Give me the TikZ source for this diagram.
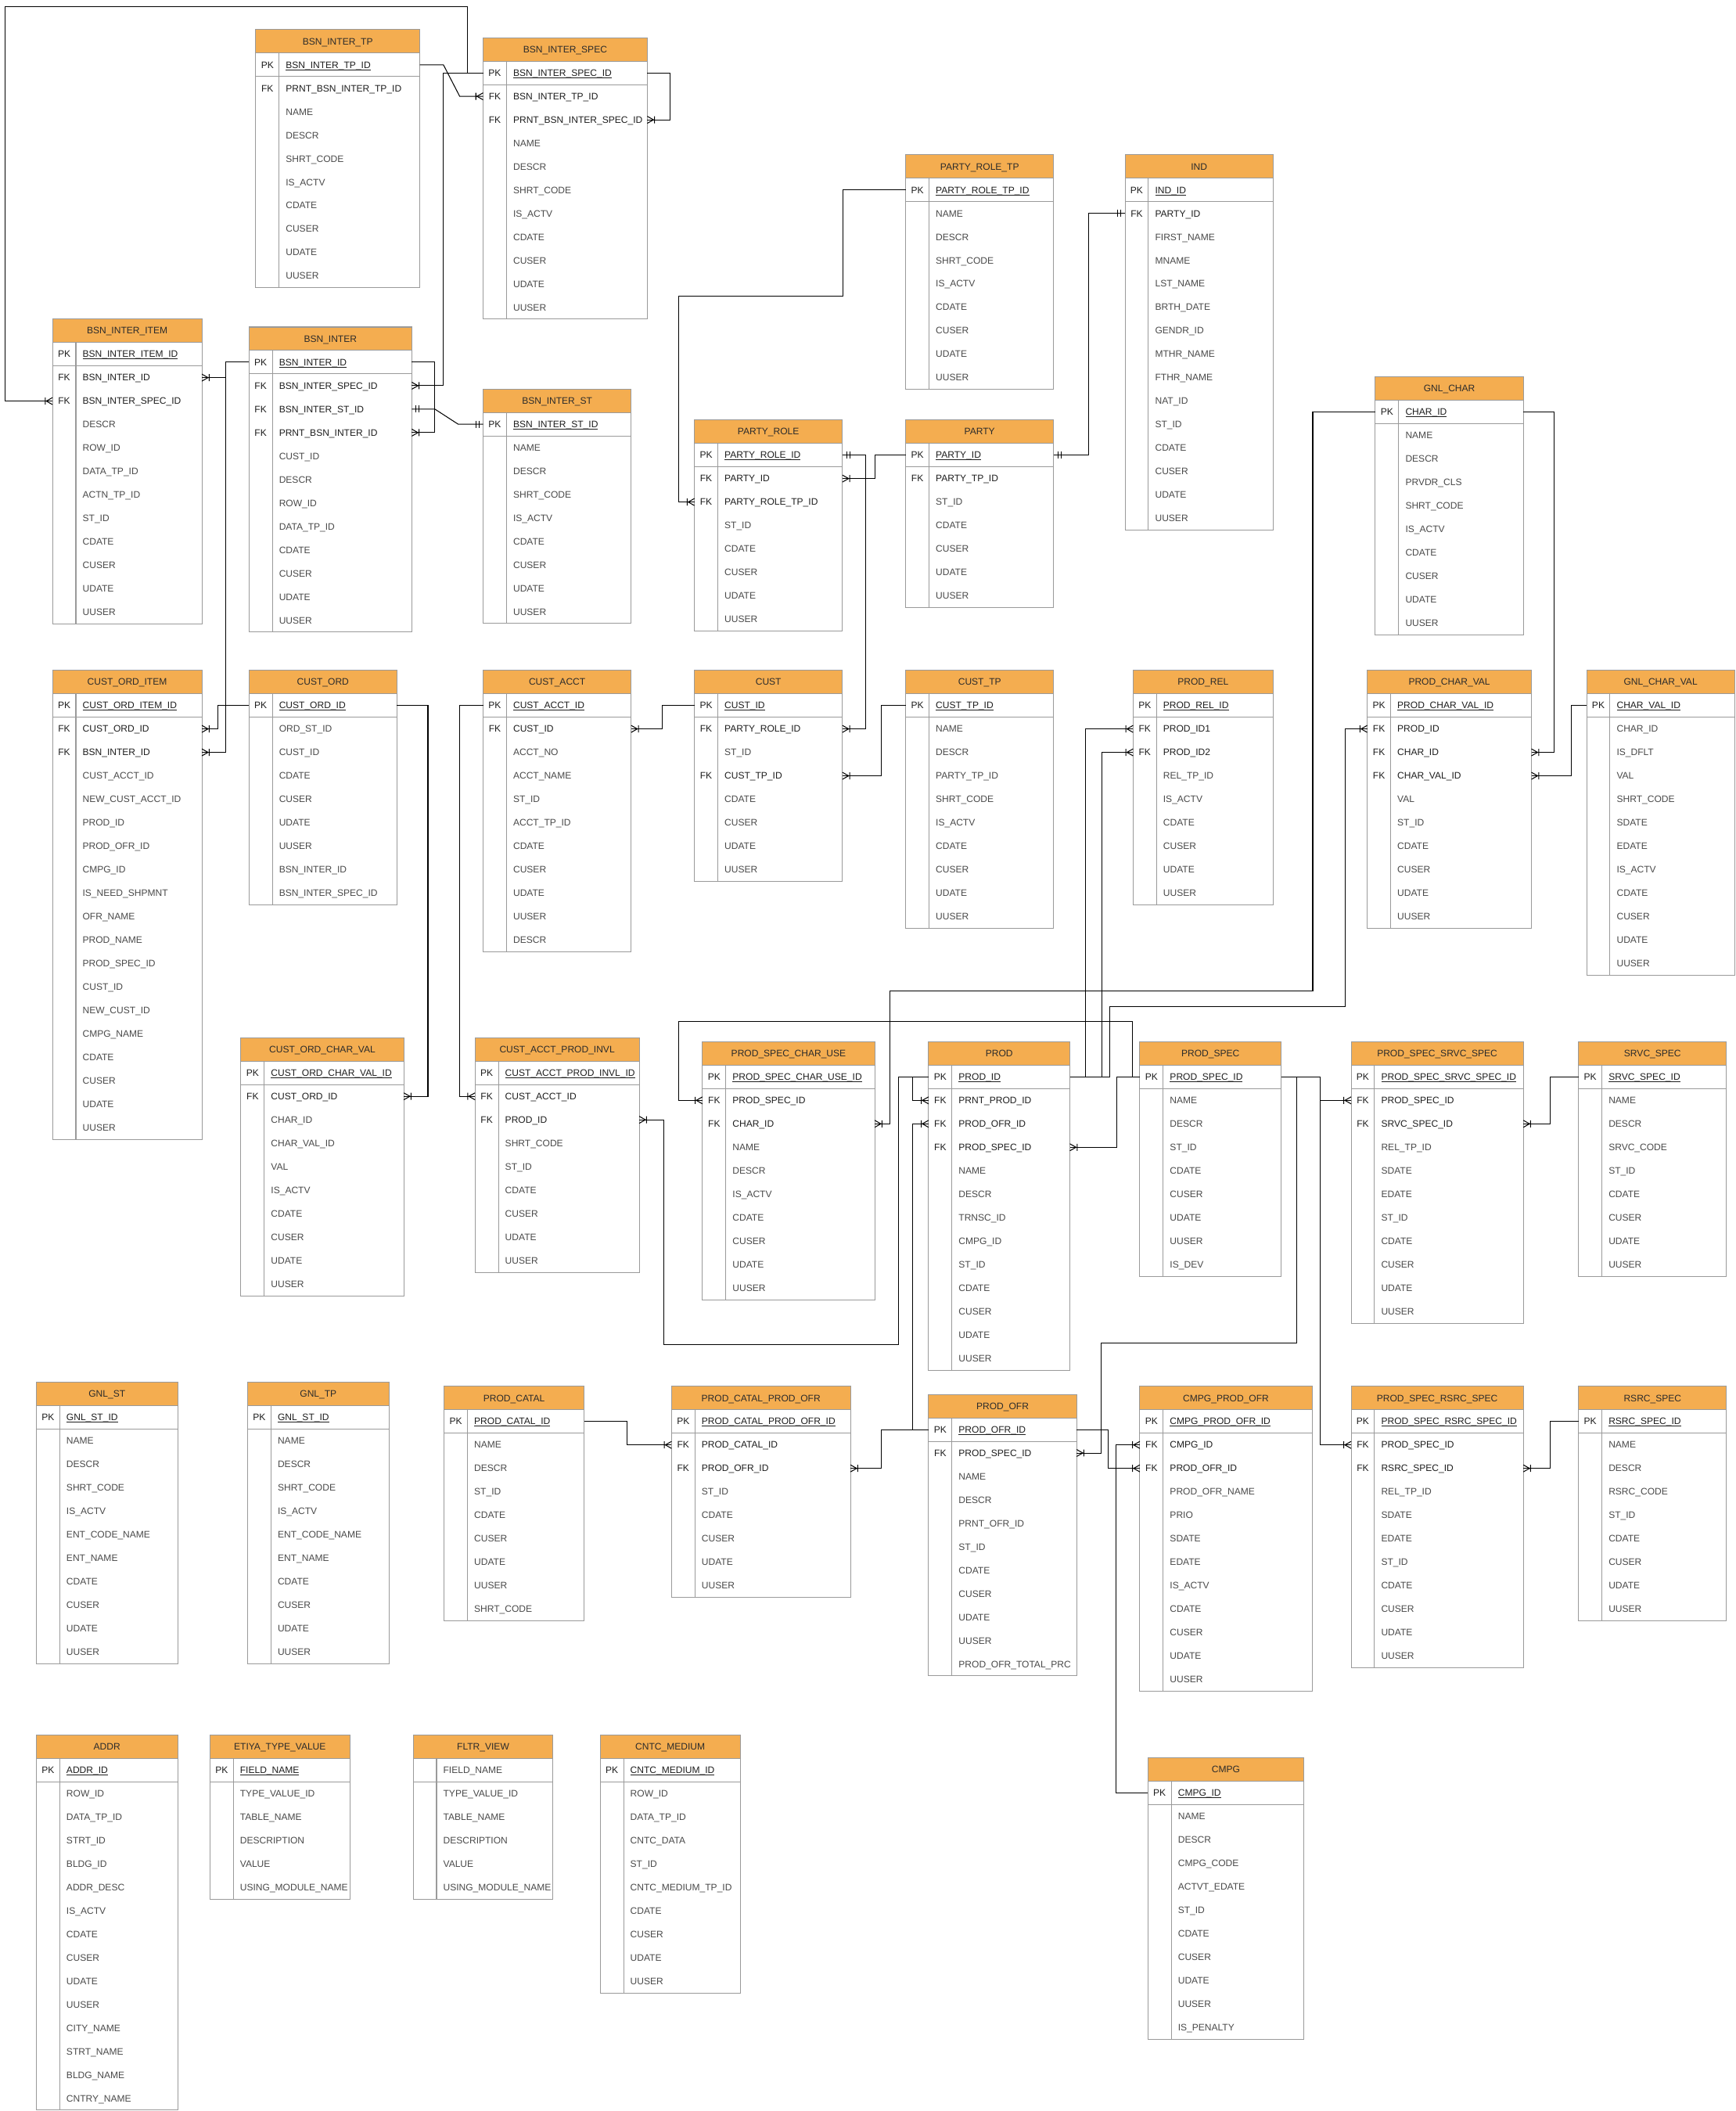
\documentclass[tikz,border=0pt]{standalone}
\usepackage{fontspec}
\setmainfont{Liberation Sans}
\definecolor{hdr}{HTML}{F4AD50}
\definecolor{bdc}{HTML}{9A9A9A}
\definecolor{keyc}{HTML}{1E1E1E}
\definecolor{plainc}{HTML}{4A4A4A}
\definecolor{hdrtxt}{HTML}{2B2B2B}
\tikzset{
  bd/.style={draw=bdc, line width=0.6pt},
  hdrfill/.style={fill=hdr},
  hdrtext/.style={font=\fontsize{7}{8}\selectfont, text=hdrtxt, inner sep=0pt, anchor=base},
  rowbox/.style={inner sep=0pt, outer sep=0pt, minimum height=17.43pt},
  keytext/.style={font=\fontsize{7}{8}\selectfont, text=keyc, inner sep=0pt, anchor=base},
  nametext/.style={font=\fontsize{7}{8}\selectfont, inner sep=0pt, anchor=base west},
  cn/.style={draw=black, line width=0.6pt},
}
\def\erul#1{\setbox0=\hbox{#1}\rlap{\rule[-1.3pt]{\wd0}{0.45pt}}\box0}
\def\erkeyP{PK}\def\erkeyF{FK}\def\erkeyN{}
\def\erfmtP#1{\color{keyc}\erul{#1}}
\def\erfmtF#1{\color{keyc}#1}
\def\erfmtN#1{\color{plainc}#1}
\catcode`\_=12
% #1 name, #2 x, #3 top, #4 width, #5 rows
\newcommand\ertable[5]{%
  \fill[hdrfill] (#2,#3) rectangle ++(#4,17.43);
  \node[hdrtext] (#1) at ({#2+#4/2},{#3+11.2}) {#1};
  \foreach \k/\f [count=\i] in {#5} {%
    \node[rowbox, minimum width=#4pt, anchor=north west] (#1-\i) at (#2,{#3+17.43*\i}) {};
    \node[keytext] (#1-\i-k) at ({#2+8.7},{#3+17.43*\i+11.2}) {\csname erkey\k\endcsname};
    \node[nametext] (#1-\i-n) at ({#2+22.2},{#3+17.43*\i+11.2}) {\csname erfmt\k\endcsname{\f}};
    \xdef\ernrows{\i}%
  }
  \draw[bd] (#2,#3) rectangle ({#2+#4},{#3+17.43*(\ernrows+1)});
  \draw[bd] (#2,{#3+17.43}) -- ++(#4,0);
  \draw[bd] (#2,{#3+17.43*2}) -- ++(#4,0);
  \draw[bd] ({#2+17.4},{#3+17.43}) -- ({#2+17.4},{#3+17.43*(\ernrows+1)});
}
\newcommand\manyE[1]{\draw[cn] ([yshift=2.6pt]#1) -- ([xshift=4.6pt]#1) -- ([yshift=-2.6pt]#1) ([xshift=5.4pt,yshift=2.6pt]#1) -- ([xshift=5.4pt,yshift=-2.6pt]#1);}
\newcommand\manyW[1]{\draw[cn] ([yshift=2.6pt]#1) -- ([xshift=-4.6pt]#1) -- ([yshift=-2.6pt]#1) ([xshift=-5.4pt,yshift=2.6pt]#1) -- ([xshift=-5.4pt,yshift=-2.6pt]#1);}
\newcommand\oneE[1]{\draw[cn] ([xshift=3.2pt,yshift=2.6pt]#1) -- ([xshift=3.2pt,yshift=-2.6pt]#1) ([xshift=5.4pt,yshift=2.6pt]#1) -- ([xshift=5.4pt,yshift=-2.6pt]#1);}
\newcommand\oneW[1]{\draw[cn] ([xshift=-3.2pt,yshift=2.6pt]#1) -- ([xshift=-3.2pt,yshift=-2.6pt]#1) ([xshift=-5.4pt,yshift=2.6pt]#1) -- ([xshift=-5.4pt,yshift=-2.6pt]#1);}
\begin{document}
\begin{tikzpicture}[x=1pt,y=-1pt]
\useasboundingbox[fill=white] (0,0) rectangle (1290,1568.5);

\ertable{BSN_INTER_TP}{190}{22}{122}{P/BSN_INTER_TP_ID, F/PRNT_BSN_INTER_TP_ID, N/NAME, N/DESCR, N/SHRT_CODE, N/IS_ACTV, N/CDATE, N/CUSER, N/UDATE, N/UUSER}
\ertable{BSN_INTER_SPEC}{359}{28}{122}{P/BSN_INTER_SPEC_ID, F/BSN_INTER_TP_ID, F/PRNT_BSN_INTER_SPEC_ID, N/NAME, N/DESCR, N/SHRT_CODE, N/IS_ACTV, N/CDATE, N/CUSER, N/UDATE, N/UUSER}
\ertable{PARTY_ROLE_TP}{673}{115}{110}{P/PARTY_ROLE_TP_ID, N/NAME, N/DESCR, N/SHRT_CODE, N/IS_ACTV, N/CDATE, N/CUSER, N/UDATE, N/UUSER}
\ertable{IND}{836}{115}{110}{P/IND_ID, F/PARTY_ID, N/FIRST_NAME, N/MNAME, N/LST_NAME, N/BRTH_DATE, N/GENDR_ID, N/MTHR_NAME, N/FTHR_NAME, N/NAT_ID, N/ST_ID, N/CDATE, N/CUSER, N/UDATE, N/UUSER}
\ertable{GNL_CHAR}{1022}{280}{110}{P/CHAR_ID, N/NAME, N/DESCR, N/PRVDR_CLS, N/SHRT_CODE, N/IS_ACTV, N/CDATE, N/CUSER, N/UDATE, N/UUSER}
\ertable{BSN_INTER_ITEM}{39}{237}{111}{P/BSN_INTER_ITEM_ID, F/BSN_INTER_ID, F/BSN_INTER_SPEC_ID, N/DESCR, N/ROW_ID, N/DATA_TP_ID, N/ACTN_TP_ID, N/ST_ID, N/CDATE, N/CUSER, N/UDATE, N/UUSER}
\ertable{BSN_INTER}{185}{243}{121}{P/BSN_INTER_ID, F/BSN_INTER_SPEC_ID, F/BSN_INTER_ST_ID, F/PRNT_BSN_INTER_ID, N/CUST_ID, N/DESCR, N/ROW_ID, N/DATA_TP_ID, N/CDATE, N/CUSER, N/UDATE, N/UUSER}
\ertable{BSN_INTER_ST}{359}{289}{110}{P/BSN_INTER_ST_ID, N/NAME, N/DESCR, N/SHRT_CODE, N/IS_ACTV, N/CDATE, N/CUSER, N/UDATE, N/UUSER}
\ertable{PARTY_ROLE}{516}{312}{110}{P/PARTY_ROLE_ID, F/PARTY_ID, F/PARTY_ROLE_TP_ID, N/ST_ID, N/CDATE, N/CUSER, N/UDATE, N/UUSER}
\ertable{PARTY}{673}{312}{110}{P/PARTY_ID, F/PARTY_TP_ID, N/ST_ID, N/CDATE, N/CUSER, N/UDATE, N/UUSER}

\ertable{CUST_ORD_ITEM}{39}{498}{111}{P/CUST_ORD_ITEM_ID, F/CUST_ORD_ID, F/BSN_INTER_ID, N/CUST_ACCT_ID, N/NEW_CUST_ACCT_ID, N/PROD_ID, N/PROD_OFR_ID, N/CMPG_ID, N/IS_NEED_SHPMNT, N/OFR_NAME, N/PROD_NAME, N/PROD_SPEC_ID, N/CUST_ID, N/NEW_CUST_ID, N/CMPG_NAME, N/CDATE, N/CUSER, N/UDATE, N/UUSER}
\ertable{CUST_ORD}{185}{498}{110}{P/CUST_ORD_ID, N/ORD_ST_ID, N/CUST_ID, N/CDATE, N/CUSER, N/UDATE, N/UUSER, N/BSN_INTER_ID, N/BSN_INTER_SPEC_ID}
\ertable{CUST_ACCT}{359}{498}{110}{P/CUST_ACCT_ID, F/CUST_ID, N/ACCT_NO, N/ACCT_NAME, N/ST_ID, N/ACCT_TP_ID, N/CDATE, N/CUSER, N/UDATE, N/UUSER, N/DESCR}
\ertable{CUST}{516}{498}{110}{P/CUST_ID, F/PARTY_ROLE_ID, N/ST_ID, F/CUST_TP_ID, N/CDATE, N/CUSER, N/UDATE, N/UUSER}
\ertable{CUST_TP}{673}{498}{110}{P/CUST_TP_ID, N/NAME, N/DESCR, N/PARTY_TP_ID, N/SHRT_CODE, N/IS_ACTV, N/CDATE, N/CUSER, N/UDATE, N/UUSER}
\ertable{PROD_REL}{842}{498}{104}{P/PROD_REL_ID, F/PROD_ID1, F/PROD_ID2, N/REL_TP_ID, N/IS_ACTV, N/CDATE, N/CUSER, N/UDATE, N/UUSER}
\ertable{PROD_CHAR_VAL}{1016}{498}{122}{P/PROD_CHAR_VAL_ID, F/PROD_ID, F/CHAR_ID, F/CHAR_VAL_ID, N/VAL, N/ST_ID, N/CDATE, N/CUSER, N/UDATE, N/UUSER}
\ertable{GNL_CHAR_VAL}{1179}{498}{110}{P/CHAR_VAL_ID, N/CHAR_ID, N/IS_DFLT, N/VAL, N/SHRT_CODE, N/SDATE, N/EDATE, N/IS_ACTV, N/CDATE, N/CUSER, N/UDATE, N/UUSER}

\ertable{CUST_ORD_CHAR_VAL}{179}{771}{121}{P/CUST_ORD_CHAR_VAL_ID, F/CUST_ORD_ID, N/CHAR_ID, N/CHAR_VAL_ID, N/VAL, N/IS_ACTV, N/CDATE, N/CUSER, N/UDATE, N/UUSER}
\ertable{CUST_ACCT_PROD_INVL}{353}{771}{122}{P/CUST_ACCT_PROD_INVL_ID, F/CUST_ACCT_ID, F/PROD_ID, N/SHRT_CODE, N/ST_ID, N/CDATE, N/CUSER, N/UDATE, N/UUSER}
\ertable{PROD_SPEC_CHAR_USE}{522}{774}{128}{P/PROD_SPEC_CHAR_USE_ID, F/PROD_SPEC_ID, F/CHAR_ID, N/NAME, N/DESCR, N/IS_ACTV, N/CDATE, N/CUSER, N/UDATE, N/UUSER}
\ertable{PROD}{690}{774}{105}{P/PROD_ID, F/PRNT_PROD_ID, F/PROD_OFR_ID, F/PROD_SPEC_ID, N/NAME, N/DESCR, N/TRNSC_ID, N/CMPG_ID, N/ST_ID, N/CDATE, N/CUSER, N/UDATE, N/UUSER}
\ertable{PROD_SPEC}{847}{774}{105}{P/PROD_SPEC_ID, N/NAME, N/DESCR, N/ST_ID, N/CDATE, N/CUSER, N/UDATE, N/UUSER, N/IS_DEV}
\ertable{PROD_SPEC_SRVC_SPEC}{1004}{774}{128}{P/PROD_SPEC_SRVC_SPEC_ID, F/PROD_SPEC_ID, F/SRVC_SPEC_ID, N/REL_TP_ID, N/SDATE, N/EDATE, N/ST_ID, N/CDATE, N/CUSER, N/UDATE, N/UUSER}
\ertable{SRVC_SPEC}{1173}{774}{110}{P/SRVC_SPEC_ID, N/NAME, N/DESCR, N/SRVC_CODE, N/ST_ID, N/CDATE, N/CUSER, N/UDATE, N/UUSER}

\ertable{GNL_ST}{27}{1027}{105}{P/GNL_ST_ID, N/NAME, N/DESCR, N/SHRT_CODE, N/IS_ACTV, N/ENT_CODE_NAME, N/ENT_NAME, N/CDATE, N/CUSER, N/UDATE, N/UUSER}
\ertable{GNL_TP}{184}{1027}{105}{P/GNL_ST_ID, N/NAME, N/DESCR, N/SHRT_CODE, N/IS_ACTV, N/ENT_CODE_NAME, N/ENT_NAME, N/CDATE, N/CUSER, N/UDATE, N/UUSER}
\ertable{PROD_CATAL}{330}{1030}{104}{P/PROD_CATAL_ID, N/NAME, N/DESCR, N/ST_ID, N/CDATE, N/CUSER, N/UDATE, N/UUSER, N/SHRT_CODE}
\ertable{PROD_CATAL_PROD_OFR}{499}{1030}{133}{P/PROD_CATAL_PROD_OFR_ID, F/PROD_CATAL_ID, F/PROD_OFR_ID, N/ST_ID, N/CDATE, N/CUSER, N/UDATE, N/UUSER}
\ertable{PROD_OFR}{690}{1036}{110}{P/PROD_OFR_ID, F/PROD_SPEC_ID, N/NAME, N/DESCR, N/PRNT_OFR_ID, N/ST_ID, N/CDATE, N/CUSER, N/UDATE, N/UUSER, N/PROD_OFR_TOTAL_PRC}
\ertable{CMPG_PROD_OFR}{847}{1030}{128}{P/CMPG_PROD_OFR_ID, F/CMPG_ID, F/PROD_OFR_ID, N/PROD_OFR_NAME, N/PRIO, N/SDATE, N/EDATE, N/IS_ACTV, N/CDATE, N/CUSER, N/UDATE, N/UUSER}
\ertable{PROD_SPEC_RSRC_SPEC}{1004}{1030}{128}{P/PROD_SPEC_RSRC_SPEC_ID, F/PROD_SPEC_ID, F/RSRC_SPEC_ID, N/REL_TP_ID, N/SDATE, N/EDATE, N/ST_ID, N/CDATE, N/CUSER, N/UDATE, N/UUSER}
\ertable{RSRC_SPEC}{1173}{1030}{110}{P/RSRC_SPEC_ID, N/NAME, N/DESCR, N/RSRC_CODE, N/ST_ID, N/CDATE, N/CUSER, N/UDATE, N/UUSER}

\ertable{ADDR}{27}{1289}{105}{P/ADDR_ID, N/ROW_ID, N/DATA_TP_ID, N/STRT_ID, N/BLDG_ID, N/ADDR_DESC, N/IS_ACTV, N/CDATE, N/CUSER, N/UDATE, N/UUSER, N/CITY_NAME, N/STRT_NAME, N/BLDG_NAME, N/CNTRY_NAME}
\ertable{ETIYA_TYPE_VALUE}{156}{1289}{104}{P/FIELD_NAME, N/TYPE_VALUE_ID, N/TABLE_NAME, N/DESCRIPTION, N/VALUE, N/USING_MODULE_NAME}
\ertable{FLTR_VIEW}{307}{1289}{104}{N/FIELD_NAME, N/TYPE_VALUE_ID, N/TABLE_NAME, N/DESCRIPTION, N/VALUE, N/USING_MODULE_NAME}
\ertable{CNTC_MEDIUM}{446}{1289}{104}{P/CNTC_MEDIUM_ID, N/ROW_ID, N/DATA_TP_ID, N/CNTC_DATA, N/ST_ID, N/CNTC_MEDIUM_TP_ID, N/CDATE, N/CUSER, N/UDATE, N/UUSER}
\ertable{CMPG}{853}{1306}{116}{P/CMPG_ID, N/NAME, N/DESCR, N/CMPG_CODE, N/ACTVT_EDATE, N/ST_ID, N/CDATE, N/CUSER, N/UDATE, N/UUSER, N/IS_PENALTY}

% ---------------- connectors ----------------
\draw[cn] (BSN_INTER_ITEM-3.west) -| (4,4.7) -| ([xshift=-11.6pt]BSN_INTER_SPEC-1.west) -- (BSN_INTER_SPEC-1.west);
\manyW{BSN_INTER_ITEM-3.west}
\draw[cn] (BSN_INTER_TP-1.east) -- ++(17.5,0) -- ([xshift=-17.4pt]BSN_INTER_SPEC-2.west) -- (BSN_INTER_SPEC-2.west);
\manyW{BSN_INTER_SPEC-2.west}
\draw[cn] (BSN_INTER_SPEC-1.east) -- ++(17,0) |- (BSN_INTER_SPEC-3.east);
\manyE{BSN_INTER_SPEC-3.east}
\draw[cn] (BSN_INTER-2.east) -| ([xshift=-29.5pt]BSN_INTER_SPEC-1.west) -- (BSN_INTER_SPEC-1.west);
\manyE{BSN_INTER-2.east}
\draw[cn] (BSN_INTER-1.east) -- ++(17.2,0) |- (BSN_INTER-4.east);
\manyE{BSN_INTER-4.east}
\draw[cn] (BSN_INTER-3.east) -- ++(17.2,0) -- ([xshift=-18.6pt]BSN_INTER_ST-1.west) -- (BSN_INTER_ST-1.west);
\oneE{BSN_INTER-3.east}
\oneW{BSN_INTER_ST-1.west}
\draw[cn] (BSN_INTER-1.west) -- ++(-17.5,0) |- (BSN_INTER_ITEM-2.east);
\manyE{BSN_INTER_ITEM-2.east}
\draw[cn] (BSN_INTER-1.west) -- ++(-17.5,0) |- (CUST_ORD_ITEM-3.east);
\manyE{CUST_ORD_ITEM-3.east}
\draw[cn] (CUST_ORD-1.west) -- ++(-23.2,0) |- (CUST_ORD_ITEM-2.east);
\manyE{CUST_ORD_ITEM-2.east}
\draw[cn] (CUST_ORD-1.east) -- ++(23,0) |- (CUST_ORD_CHAR_VAL-2.east);
\manyE{CUST_ORD_CHAR_VAL-2.east}
\draw[cn] (CUST_ACCT-1.west) -- ++(-17.6,0) |- (CUST_ACCT_PROD_INVL-2.west);
\manyW{CUST_ACCT_PROD_INVL-2.west}
\draw[cn] (CUST-1.west) -- ++(-24,0) |- (CUST_ACCT-2.east);
\manyE{CUST_ACCT-2.east}
\draw[cn] (PARTY_ROLE-1.east) -- ++(17.5,0) |- (CUST-2.east);
\oneE{PARTY_ROLE-1.east}
\manyE{CUST-2.east}
\draw[cn] (CUST_TP-1.west) -- ++(-18,0) |- (CUST-4.east);
\manyE{CUST-4.east}
\draw[cn] (PARTY_ROLE_TP-1.west) -| (626.5,220) -| ([xshift=-11.5pt]PARTY_ROLE-3.west) -- (PARTY_ROLE-3.west);
\manyW{PARTY_ROLE-3.west}
\draw[cn] (PARTY-1.west) -- ++(-23,0) |- (PARTY_ROLE-2.east);
\manyE{PARTY_ROLE-2.east}
\draw[cn] (PARTY-1.east) -- ++(26,0) |- (IND-2.west);
\oneE{PARTY-1.east}
\oneW{IND-2.west}
\draw[cn] (GNL_CHAR-1.west) -| (975.5,736) -| ([xshift=11.5pt]PROD_SPEC_CHAR_USE-3.east) -- (PROD_SPEC_CHAR_USE-3.east);
\manyE{PROD_SPEC_CHAR_USE-3.east}
\draw[cn] (GNL_CHAR-1.east) -- ++(23,0) |- (PROD_CHAR_VAL-3.east);
\manyE{PROD_CHAR_VAL-3.east}
\draw[cn] (GNL_CHAR_VAL-1.west) -- ++(-11.6,0) |- (PROD_CHAR_VAL-4.east);
\manyE{PROD_CHAR_VAL-4.east}
\draw[cn] (PROD-1.east) -| ([xshift=-35.3pt]PROD_REL-2.west) -- (PROD_REL-2.west);
\manyW{PROD_REL-2.west}
\draw[cn] (PROD-1.east) -| ([xshift=-23.4pt]PROD_REL-3.west) -- (PROD_REL-3.west);
\manyW{PROD_REL-3.west}
\draw[cn] (PROD-1.east) -| (824.4,748) -| ([xshift=-16.6pt]PROD_CHAR_VAL-2.west) -- (PROD_CHAR_VAL-2.west);
\manyW{PROD_CHAR_VAL-2.west}
\draw[cn] (PROD-1.west) -- ++(-11.7,0) |- (PROD-2.west);
\manyW{PROD-2.west}
\draw[cn] (PROD_OFR-1.west) -- ++(-11.7,0) |- (PROD-3.west);
\manyW{PROD-3.west}
\draw[cn] (CUST_ACCT_PROD_INVL-3.east) -| (493,999) -| ([xshift=-22.5pt]PROD-1.west) -- (PROD-1.west);
\manyE{CUST_ACCT_PROD_INVL-3.east}
\draw[cn] (PROD_SPEC-1.west) -| (841.6,759) -| ([xshift=-17.5pt]PROD_SPEC_CHAR_USE-2.west) -- (PROD_SPEC_CHAR_USE-2.west);
\manyW{PROD_SPEC_CHAR_USE-2.west}
\draw[cn] (PROD_SPEC-1.west) -- ++(-17,0) |- (PROD-4.east);
\manyE{PROD-4.east}
\draw[cn] (PROD_SPEC-1.east) -| (963.5,997.7) -| ([xshift=18pt]PROD_OFR-2.east) -- (PROD_OFR-2.east);
\manyE{PROD_OFR-2.east}
\draw[cn] (PROD_SPEC-1.east) -- ++(28.8,0) |- (PROD_SPEC_SRVC_SPEC-2.west);
\manyW{PROD_SPEC_SRVC_SPEC-2.west}
\draw[cn] (PROD_SPEC-1.east) -- ++(28.8,0) |- (PROD_SPEC_RSRC_SPEC-2.west);
\manyW{PROD_SPEC_RSRC_SPEC-2.west}
\draw[cn] (SRVC_SPEC-1.west) -- ++(-21,0) |- (PROD_SPEC_SRVC_SPEC-3.east);
\manyE{PROD_SPEC_SRVC_SPEC-3.east}
\draw[cn] (RSRC_SPEC-1.west) -- ++(-21,0) |- (PROD_SPEC_RSRC_SPEC-3.east);
\manyE{PROD_SPEC_RSRC_SPEC-3.east}
\draw[cn] (PROD_CATAL-1.east) -- ++(32,0) |- (PROD_CATAL_PROD_OFR-2.west);
\manyW{PROD_CATAL_PROD_OFR-2.west}
\draw[cn] (PROD_OFR-1.west) -- ++(-35,0) |- (PROD_CATAL_PROD_OFR-3.east);
\manyE{PROD_CATAL_PROD_OFR-3.east}
\draw[cn] (PROD_OFR-1.east) -- ++(23.7,0) |- (CMPG_PROD_OFR-3.west);
\manyW{CMPG_PROD_OFR-3.west}
\draw[cn] (CMPG-1.west) -- ++(-23.5,0) |- (CMPG_PROD_OFR-2.west);
\manyW{CMPG_PROD_OFR-2.west}
\end{tikzpicture}
\end{document}
